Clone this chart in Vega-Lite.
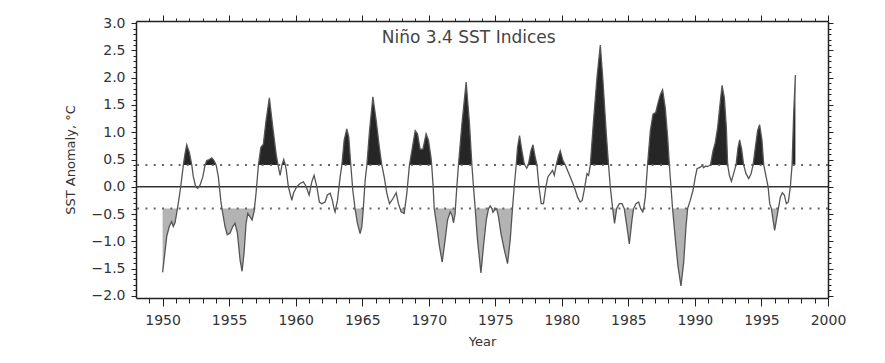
{
  "$schema": "https://vega.github.io/schema/vega-lite/v6.json",
  "width": 692,
  "height": 277,
  "autosize": {"type": "none"},
  "padding": {"left": 136, "top": 21, "right": 57, "bottom": 65},
  "background": "white",
  "config": {
    "view": {"stroke": null},
    "axis": {"grid": false, "tickColor": "#222", "domainColor": "#222", "tickWidth": 1, "domainWidth": 1.5, "labelFont": "DejaVu Sans", "titleFont": "DejaVu Sans", "labelColor": "#333", "titleColor": "#333", "titleFontWeight": "normal"}
  },
  "datasets": {
    "nino": [
      {"year": 1950.00, "v": -1.57}, {"year": 1950.31, "v": -0.91}, {"year": 1950.50, "v": -0.73}, {"year": 1950.68, "v": -0.64},
      {"year": 1950.80, "v": -0.73}, {"year": 1950.93, "v": -0.66}, {"year": 1951.06, "v": -0.48}, {"year": 1951.11, "v": -0.40},
      {"year": 1951.18, "v": -0.30}, {"year": 1951.36, "v": 0.00}, {"year": 1951.56, "v": 0.40}, {"year": 1951.68, "v": 0.60},
      {"year": 1951.81, "v": 0.77}, {"year": 1952.01, "v": 0.63}, {"year": 1952.19, "v": 0.40}, {"year": 1952.31, "v": 0.18},
      {"year": 1952.49, "v": 0.00}, {"year": 1952.64, "v": -0.03}, {"year": 1952.81, "v": 0.03}, {"year": 1953.02, "v": 0.18},
      {"year": 1953.19, "v": 0.40}, {"year": 1953.32, "v": 0.48}, {"year": 1953.51, "v": 0.50}, {"year": 1953.69, "v": 0.53},
      {"year": 1953.86, "v": 0.48}, {"year": 1954.02, "v": 0.40}, {"year": 1954.19, "v": 0.18}, {"year": 1954.37, "v": -0.25},
      {"year": 1954.46, "v": -0.40}, {"year": 1954.52, "v": -0.49}, {"year": 1954.69, "v": -0.73}, {"year": 1954.86, "v": -0.88},
      {"year": 1955.07, "v": -0.85}, {"year": 1955.27, "v": -0.73}, {"year": 1955.44, "v": -0.67}, {"year": 1955.62, "v": -0.85},
      {"year": 1955.82, "v": -1.34}, {"year": 1955.97, "v": -1.55}, {"year": 1956.12, "v": -1.21}, {"year": 1956.27, "v": -0.67},
      {"year": 1956.40, "v": -0.49}, {"year": 1956.57, "v": -0.55}, {"year": 1956.72, "v": -0.61}, {"year": 1956.87, "v": -0.46},
      {"year": 1956.90, "v": -0.40}, {"year": 1957.02, "v": -0.12}, {"year": 1957.20, "v": 0.40}, {"year": 1957.38, "v": 0.72},
      {"year": 1957.57, "v": 0.78}, {"year": 1957.77, "v": 1.21}, {"year": 1958.02, "v": 1.63}, {"year": 1958.28, "v": 1.09},
      {"year": 1958.53, "v": 0.60}, {"year": 1958.67, "v": 0.40}, {"year": 1958.75, "v": 0.30}, {"year": 1958.83, "v": 0.21},
      {"year": 1958.97, "v": 0.40}, {"year": 1959.10, "v": 0.50}, {"year": 1959.22, "v": 0.40}, {"year": 1959.28, "v": 0.33},
      {"year": 1959.45, "v": 0.00}, {"year": 1959.71, "v": -0.25}, {"year": 1959.83, "v": -0.12}, {"year": 1960.08, "v": 0.00},
      {"year": 1960.33, "v": 0.06}, {"year": 1960.58, "v": 0.09}, {"year": 1960.78, "v": 0.01}, {"year": 1961.01, "v": -0.15},
      {"year": 1961.21, "v": 0.09}, {"year": 1961.38, "v": 0.21}, {"year": 1961.59, "v": 0.00}, {"year": 1961.78, "v": -0.28},
      {"year": 1961.96, "v": -0.31}, {"year": 1962.21, "v": -0.28}, {"year": 1962.38, "v": -0.15}, {"year": 1962.59, "v": -0.12},
      {"year": 1962.76, "v": -0.25}, {"year": 1962.88, "v": -0.40}, {"year": 1962.96, "v": -0.46}, {"year": 1963.01, "v": -0.40},
      {"year": 1963.14, "v": -0.25}, {"year": 1963.34, "v": 0.18}, {"year": 1963.47, "v": 0.40}, {"year": 1963.64, "v": 0.85},
      {"year": 1963.84, "v": 1.06}, {"year": 1963.99, "v": 0.91}, {"year": 1964.14, "v": 0.40}, {"year": 1964.29, "v": -0.06},
      {"year": 1964.46, "v": -0.40}, {"year": 1964.64, "v": -0.67}, {"year": 1964.84, "v": -0.86}, {"year": 1964.97, "v": -0.73},
      {"year": 1965.08, "v": -0.40}, {"year": 1965.22, "v": 0.12}, {"year": 1965.35, "v": 0.40}, {"year": 1965.55, "v": 1.03},
      {"year": 1965.80, "v": 1.65}, {"year": 1966.05, "v": 1.21}, {"year": 1966.29, "v": 0.72}, {"year": 1966.47, "v": 0.40},
      {"year": 1966.65, "v": 0.18}, {"year": 1966.85, "v": -0.12}, {"year": 1967.05, "v": -0.31}, {"year": 1967.30, "v": -0.22},
      {"year": 1967.55, "v": -0.11}, {"year": 1967.72, "v": -0.31}, {"year": 1967.84, "v": -0.40}, {"year": 1967.92, "v": -0.46},
      {"year": 1968.15, "v": -0.49}, {"year": 1968.20, "v": -0.40}, {"year": 1968.35, "v": -0.12}, {"year": 1968.55, "v": 0.40},
      {"year": 1968.77, "v": 0.72}, {"year": 1968.98, "v": 1.03}, {"year": 1969.15, "v": 0.97}, {"year": 1969.35, "v": 0.69},
      {"year": 1969.56, "v": 0.69}, {"year": 1969.80, "v": 0.97}, {"year": 1969.98, "v": 0.85}, {"year": 1970.16, "v": 0.55},
      {"year": 1970.22, "v": 0.40}, {"year": 1970.33, "v": 0.00}, {"year": 1970.41, "v": -0.40}, {"year": 1970.61, "v": -0.73},
      {"year": 1970.80, "v": -1.09}, {"year": 1971.01, "v": -1.38}, {"year": 1971.23, "v": -0.97}, {"year": 1971.41, "v": -0.61},
      {"year": 1971.61, "v": -0.46}, {"year": 1971.74, "v": -0.52}, {"year": 1971.86, "v": -0.66}, {"year": 1971.98, "v": -0.49},
      {"year": 1972.00, "v": -0.40}, {"year": 1972.11, "v": 0.00}, {"year": 1972.23, "v": 0.40}, {"year": 1972.49, "v": 1.15},
      {"year": 1972.81, "v": 1.92}, {"year": 1973.06, "v": 1.15}, {"year": 1973.24, "v": 0.40}, {"year": 1973.36, "v": 0.00},
      {"year": 1973.49, "v": -0.40}, {"year": 1973.66, "v": -0.97}, {"year": 1973.92, "v": -1.58}, {"year": 1974.11, "v": -1.09},
      {"year": 1974.32, "v": -0.61}, {"year": 1974.49, "v": -0.40}, {"year": 1974.62, "v": -0.35}, {"year": 1974.75, "v": -0.40},
      {"year": 1974.82, "v": -0.47}, {"year": 1974.95, "v": -0.43}, {"year": 1975.10, "v": -0.40}, {"year": 1975.24, "v": -0.55},
      {"year": 1975.42, "v": -0.85}, {"year": 1975.67, "v": -1.15}, {"year": 1975.92, "v": -1.41}, {"year": 1976.12, "v": -0.97},
      {"year": 1976.29, "v": -0.40}, {"year": 1976.42, "v": 0.00}, {"year": 1976.57, "v": 0.40}, {"year": 1976.67, "v": 0.72},
      {"year": 1976.82, "v": 0.94}, {"year": 1977.00, "v": 0.66}, {"year": 1977.15, "v": 0.45}, {"year": 1977.22, "v": 0.40},
      {"year": 1977.36, "v": 0.34}, {"year": 1977.48, "v": 0.40}, {"year": 1977.68, "v": 0.66}, {"year": 1977.83, "v": 0.77},
      {"year": 1978.00, "v": 0.54}, {"year": 1978.13, "v": 0.40}, {"year": 1978.28, "v": 0.00}, {"year": 1978.45, "v": -0.31},
      {"year": 1978.62, "v": -0.31}, {"year": 1978.80, "v": 0.00}, {"year": 1978.95, "v": 0.18}, {"year": 1979.13, "v": 0.24},
      {"year": 1979.30, "v": 0.30}, {"year": 1979.43, "v": 0.21}, {"year": 1979.58, "v": 0.40}, {"year": 1979.75, "v": 0.57},
      {"year": 1979.88, "v": 0.66}, {"year": 1980.08, "v": 0.48}, {"year": 1980.26, "v": 0.40}, {"year": 1980.43, "v": 0.30},
      {"year": 1980.63, "v": 0.18}, {"year": 1980.83, "v": 0.06}, {"year": 1981.01, "v": -0.06}, {"year": 1981.18, "v": -0.19},
      {"year": 1981.38, "v": -0.28}, {"year": 1981.53, "v": -0.25}, {"year": 1981.68, "v": -0.06}, {"year": 1981.89, "v": 0.24},
      {"year": 1982.01, "v": 0.21}, {"year": 1982.14, "v": 0.40}, {"year": 1982.38, "v": 1.21}, {"year": 1982.64, "v": 2.00},
      {"year": 1982.89, "v": 2.60}, {"year": 1983.09, "v": 1.94}, {"year": 1983.34, "v": 0.97}, {"year": 1983.51, "v": 0.40},
      {"year": 1983.64, "v": 0.00}, {"year": 1983.82, "v": -0.40}, {"year": 1983.96, "v": -0.67}, {"year": 1984.12, "v": -0.40},
      {"year": 1984.32, "v": -0.31}, {"year": 1984.52, "v": -0.31}, {"year": 1984.69, "v": -0.40}, {"year": 1984.89, "v": -0.73},
      {"year": 1985.07, "v": -1.05}, {"year": 1985.27, "v": -0.61}, {"year": 1985.39, "v": -0.40}, {"year": 1985.57, "v": -0.31},
      {"year": 1985.77, "v": -0.28}, {"year": 1985.92, "v": -0.40}, {"year": 1986.08, "v": -0.46}, {"year": 1986.15, "v": -0.40},
      {"year": 1986.27, "v": -0.19}, {"year": 1986.44, "v": 0.40}, {"year": 1986.65, "v": 1.03}, {"year": 1986.85, "v": 1.33},
      {"year": 1987.05, "v": 1.36}, {"year": 1987.20, "v": 1.51}, {"year": 1987.40, "v": 1.69}, {"year": 1987.57, "v": 1.78},
      {"year": 1987.77, "v": 1.45}, {"year": 1987.95, "v": 0.91}, {"year": 1988.08, "v": 0.40}, {"year": 1988.20, "v": 0.00},
      {"year": 1988.32, "v": -0.40}, {"year": 1988.53, "v": -0.97}, {"year": 1988.73, "v": -1.46}, {"year": 1988.95, "v": -1.82},
      {"year": 1989.15, "v": -1.40}, {"year": 1989.33, "v": -0.73}, {"year": 1989.45, "v": -0.40}, {"year": 1989.65, "v": -0.25},
      {"year": 1989.86, "v": -0.06}, {"year": 1990.03, "v": 0.18}, {"year": 1990.16, "v": 0.33}, {"year": 1990.41, "v": 0.36},
      {"year": 1990.55, "v": 0.39}, {"year": 1990.66, "v": 0.35}, {"year": 1990.80, "v": 0.38}, {"year": 1990.92, "v": 0.37},
      {"year": 1991.10, "v": 0.39}, {"year": 1991.17, "v": 0.40}, {"year": 1991.36, "v": 0.66}, {"year": 1991.53, "v": 0.81},
      {"year": 1991.71, "v": 1.09}, {"year": 1991.86, "v": 1.45}, {"year": 1992.04, "v": 1.86}, {"year": 1992.21, "v": 1.63},
      {"year": 1992.36, "v": 1.09}, {"year": 1992.46, "v": 0.40}, {"year": 1992.59, "v": 0.21}, {"year": 1992.74, "v": 0.10},
      {"year": 1992.91, "v": 0.24}, {"year": 1993.09, "v": 0.40}, {"year": 1993.24, "v": 0.72}, {"year": 1993.36, "v": 0.86},
      {"year": 1993.51, "v": 0.69}, {"year": 1993.66, "v": 0.40}, {"year": 1993.84, "v": 0.24}, {"year": 1994.04, "v": 0.15},
      {"year": 1994.22, "v": 0.24}, {"year": 1994.37, "v": 0.40}, {"year": 1994.54, "v": 0.72}, {"year": 1994.71, "v": 1.03},
      {"year": 1994.86, "v": 1.14}, {"year": 1995.04, "v": 0.85}, {"year": 1995.17, "v": 0.40}, {"year": 1995.35, "v": 0.18},
      {"year": 1995.50, "v": 0.00}, {"year": 1995.62, "v": -0.31}, {"year": 1995.75, "v": -0.40}, {"year": 1995.87, "v": -0.61},
      {"year": 1995.99, "v": -0.80}, {"year": 1996.12, "v": -0.61}, {"year": 1996.27, "v": -0.40}, {"year": 1996.42, "v": -0.19},
      {"year": 1996.57, "v": -0.11}, {"year": 1996.72, "v": -0.15}, {"year": 1996.87, "v": -0.31}, {"year": 1997.02, "v": -0.28},
      {"year": 1997.17, "v": 0.00}, {"year": 1997.30, "v": 0.40}, {"year": 1997.42, "v": 1.33}, {"year": 1997.55, "v": 2.05}
    ]
  },
  "data": {"name": "nino"},
  "resolve": {"axis": {"x": "independent", "y": "independent"}},
  "layer": [
    {
      "transform": [{"filter": "datum.v <= -0.4"}],
      "mark": {"type": "area", "color": "#b3b3b3", "interpolate": "linear"},
      "encoding": {
        "x": {"field": "year", "type": "quantitative",
          "scale": {"domain": [1948, 2000], "nice": false, "zero": false},
          "axis": {"orient": "bottom", "values": [1950, 1955, 1960, 1965, 1970, 1975, 1980, 1985, 1990, 1995, 2000], "format": "d", "title": "Year", "tickSize": 8, "labelPadding": 7, "labelFontSize": 14, "labelFlush": false, "labelOverlap": false, "titleFontSize": 13, "titlePadding": 8, "domain": true}},
        "y": {"field": "v", "type": "quantitative",
          "scale": {"domain": [-2.04, 3.04], "nice": false, "zero": false},
          "axis": {"orient": "left", "values": [-2, -1.5, -1, -0.5, 0, 0.5, 1, 1.5, 2, 2.5, 3], "format": ".1f", "title": "SST Anomaly, °C", "tickSize": 5, "labelPadding": 6, "labelFontSize": 14, "labelFlush": false, "labelOverlap": false, "titleFontSize": 13, "titlePadding": 14, "domain": true}},
        "y2": {"datum": -0.4}
      }
    },
    {
      "transform": [{"filter": "datum.v >= 0.4"}],
      "mark": {"type": "area", "color": "#262626", "interpolate": "linear"},
      "encoding": {
        "x": {"field": "year", "type": "quantitative",
          "scale": {"domain": [1948, 2000], "nice": false, "zero": false},
          "axis": {"orient": "bottom", "values": [1949, 1950, 1951, 1952, 1953, 1954, 1955, 1956, 1957, 1958, 1959, 1960, 1961, 1962, 1963, 1964, 1965, 1966, 1967, 1968, 1969, 1970, 1971, 1972, 1973, 1974, 1975, 1976, 1977, 1978, 1979, 1980, 1981, 1982, 1983, 1984, 1985, 1986, 1987, 1988, 1989, 1990, 1991, 1992, 1993, 1994, 1995, 1996, 1997, 1998, 1999], "labels": false, "title": null, "tickSize": 5, "domain": false}},
        "y": {"field": "v", "type": "quantitative",
          "scale": {"domain": [-2.04, 3.04], "nice": false, "zero": false},
          "axis": {"orient": "left", "values": [-2, -1.9, -1.8, -1.7, -1.6, -1.5, -1.4, -1.3, -1.2, -1.1, -1, -0.9, -0.8, -0.7, -0.6, -0.5, -0.4, -0.3, -0.2, -0.1, 0, 0.1, 0.2, 0.3, 0.4, 0.5, 0.6, 0.7, 0.8, 0.9, 1, 1.1, 1.2, 1.3, 1.4, 1.5, 1.6, 1.7, 1.8, 1.9, 2, 2.1, 2.2, 2.3, 2.4, 2.5, 2.6, 2.7, 2.8, 2.9, 3], "labels": false, "title": null, "tickSize": 3, "domain": false}},
        "y2": {"datum": 0.4}
      }
    },
    {
      "data": {"values": [{}]},
      "mark": {"type": "rule", "color": "#666", "strokeWidth": 2, "strokeDash": [2, 6.3]},
      "encoding": {"y": {"datum": 0.4, "axis": null}}
    },
    {
      "data": {"values": [{}]},
      "mark": {"type": "rule", "color": "#666", "strokeWidth": 2, "strokeDash": [2, 6.3]},
      "encoding": {"y": {"datum": -0.4, "axis": null}}
    },
    {
      "data": {"values": [{}]},
      "mark": {"type": "rule", "color": "#333", "strokeWidth": 1.5},
      "encoding": {"y": {"datum": 0, "axis": null}}
    },
    {
      "mark": {"type": "line", "color": "#555", "strokeWidth": 1.3, "interpolate": "linear"},
      "encoding": {
        "x": {"field": "year", "type": "quantitative",
          "scale": {"domain": [1948, 2000], "nice": false, "zero": false},
          "axis": {"orient": "top", "values": [1950, 1955, 1960, 1965, 1970, 1975, 1980, 1985, 1990, 1995, 2000], "labels": false, "title": null, "tickSize": 6, "domain": true}},
        "y": {"field": "v", "type": "quantitative",
          "scale": {"domain": [-2.04, 3.04], "nice": false, "zero": false},
          "axis": {"orient": "right", "values": [-2, -1.5, -1, -0.5, 0, 0.5, 1, 1.5, 2, 2.5, 3], "labels": false, "title": null, "tickSize": 5, "domain": true}}
      }
    },
    {
      "data": {"values": [{}]},
      "mark": {"type": "text", "text": "Niño 3.4 SST Indices", "font": "DejaVu Sans", "fontSize": 17, "color": "#444", "align": "center", "baseline": "middle"},
      "encoding": {
        "x": {"datum": 1973.0, "type": "quantitative",
          "axis": {"orient": "top", "values": [1949, 1950, 1951, 1952, 1953, 1954, 1955, 1956, 1957, 1958, 1959, 1960, 1961, 1962, 1963, 1964, 1965, 1966, 1967, 1968, 1969, 1970, 1971, 1972, 1973, 1974, 1975, 1976, 1977, 1978, 1979, 1980, 1981, 1982, 1983, 1984, 1985, 1986, 1987, 1988, 1989, 1990, 1991, 1992, 1993, 1994, 1995, 1996, 1997, 1998, 1999], "labels": false, "title": null, "tickSize": 3, "domain": false}},
        "y": {"datum": 2.72, "type": "quantitative",
          "axis": {"orient": "right", "values": [-2, -1.9, -1.8, -1.7, -1.6, -1.5, -1.4, -1.3, -1.2, -1.1, -1, -0.9, -0.8, -0.7, -0.6, -0.5, -0.4, -0.3, -0.2, -0.1, 0, 0.1, 0.2, 0.3, 0.4, 0.5, 0.6, 0.7, 0.8, 0.9, 1, 1.1, 1.2, 1.3, 1.4, 1.5, 1.6, 1.7, 1.8, 1.9, 2, 2.1, 2.2, 2.3, 2.4, 2.5, 2.6, 2.7, 2.8, 2.9, 3], "labels": false, "title": null, "tickSize": 3, "domain": false}}
      }
    }
  ]
}
